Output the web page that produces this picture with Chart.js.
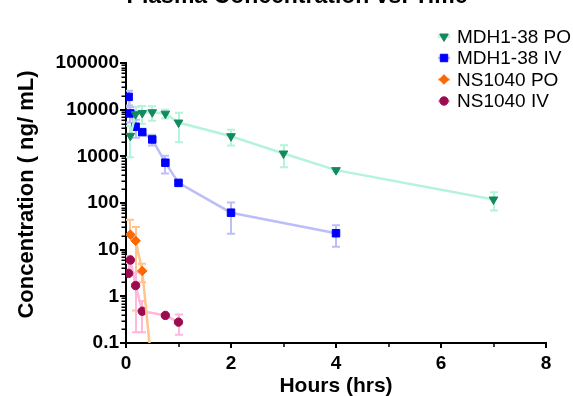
<!DOCTYPE html>
<html><head><meta charset="utf-8">
<script src="https://cdn.jsdelivr.net/npm/chart.js@4/dist/chart.umd.min.js"></script>
<style>html,body{margin:0;padding:0;background:#fff;overflow:hidden}canvas{display:block}</style>
</head><body>
<canvas id="c" width="573" height="396"></canvas>
<script>
const chartTitle = 'Plasma Concentration vs. Time';
const xAxisTitle = 'Hours (hrs)';
const yAxisTitle = 'Concentration ( ng/ mL)';
const seriesNames = ['MDH1-38 PO', 'MDH1-38 IV', 'NS1040 PO', 'NS1040 IV'];
const xTicks = [0, 2, 4, 6, 8];
const xMinorTicks = [1, 3, 5, 7];
const yTicks = [0.1, 1, 10, 100, 1000, 10000, 100000];

const mdhPoTime = [0.083, 0.183, 0.31, 0.5, 0.75, 1, 2, 3, 4, 7];
const mdhPoConc = [2750, 8000, 8500, 8800, 8200, 5300, 2700, 1150, 506, 119];
const mdhPoSd   = [1800, 3500, 3500, 3000, 1700, 3300, 1000, 570, 40, 50];

const mdhIvTime = [0.05, 0.083, 0.183, 0.31, 0.5, 0.75, 1, 2, 4];
const mdhIvConc = [18800, 8300, 4300, 3300, 2300, 730, 270, 62, 22.5];
const mdhIvSd   = [6500, 3000, 1800, 400, 600, 300, 30, 40, 11];

const nsPoTime = [0.083, 0.183, 0.31, 0.5];
const nsPoConc = [21, 15.5, 3.5, 0.025];
const nsPoSd   = [23, 15, 1.5, 0];

const nsIvTime = [0.05, 0.083, 0.183, 0.31, 0.75, 1];
const nsIvConc = [3.1, 6.0, 1.7, 0.48, 0.39, 0.28];
const nsIvSd   = [4.2, 0.8, 1.53, 0.31, 0.03, 0.13];

const FAMILY = '"Liberation Sans", Arial, Helvetica, sans-serif';

function pts(t, v) { return t.map((x, i) => ({x: x, y: v[i]})); }

function makeSet(label, t, v, sd, marker, line, style, radius, rotation) {
  return {
    label: label, data: pts(t, v), sd: sd,
    showLine: true, borderColor: line, borderWidth: 2.5, tension: 0,
    pointStyle: style, pointRadius: radius, pointRotation: rotation || 0,
    pointBackgroundColor: marker, pointBorderColor: marker, pointBorderWidth: 1,
    pointHoverRadius: radius
  };
}

const datasets = [
  makeSet(seriesNames[0], mdhPoTime, mdhPoConc, mdhPoSd, '#138a5c', '#b5f3dd', 'triangle', 5, 180),
  makeSet(seriesNames[1], mdhIvTime, mdhIvConc, mdhIvSd, '#0000ff', '#bdbdf7', 'rect', 5.3, 0),
  makeSet(seriesNames[2], nsPoTime, nsPoConc, nsPoSd, '#ff6600', '#ffc58c', 'rectRot', 4.8, 0),
  makeSet(seriesNames[3], nsIvTime, nsIvConc, nsIvSd, '#9c0a50', '#ffb8dc', 'circle', 4.2, 0)
];

const errorBars = {
  id: 'errorBars',
  beforeDatasetsDraw(chart) {
    const ctx = chart.ctx, a = chart.chartArea, xs = chart.scales.x, ys = chart.scales.y;
    ctx.save();
    ctx.beginPath(); ctx.rect(a.left, a.top - 3, a.right - a.left, a.bottom - a.top + 3); ctx.clip();
    chart.data.datasets.forEach(ds => {
      const sd = ds.sd; if (!sd) return;
      ctx.strokeStyle = ds.borderColor; ctx.lineWidth = 2;
      ds.data.forEach((p, i) => {
        const s = sd[i]; if (!s) return;
        const px = Math.round(xs.getPixelForValue(p.x));
        const py = ys.getPixelForValue(p.y);
        const hi = ys.getPixelForValue(p.y + s);
        ctx.beginPath();
        ctx.moveTo(px, py); ctx.lineTo(px, hi);
        ctx.moveTo(px - 4, hi); ctx.lineTo(px + 4, hi);
        if (p.y - s > 0) {
          const lo = ys.getPixelForValue(p.y - s);
          ctx.moveTo(px, py); ctx.lineTo(px, lo);
          ctx.moveTo(px - 4, lo); ctx.lineTo(px + 4, lo);
        }
        ctx.stroke();
      });
    });
    ctx.restore();
  }
};

const minorTicks = {
  id: 'minorTicks',
  afterDraw(chart) {
    const ctx = chart.ctx, a = chart.chartArea, xs = chart.scales.x, ys = chart.scales.y;
    ctx.save();
    ctx.strokeStyle = '#000'; ctx.lineWidth = 1.5;
    ctx.beginPath();
    for (let k = 0; k < yTicks.length - 1; k++) {
      for (let m = 2; m <= 9; m++) {
        const py = Math.round(ys.getPixelForValue(yTicks[k] * m)) + 0.25;
        ctx.moveTo(a.left - 4.5, py); ctx.lineTo(a.left, py);
      }
    }
    xMinorTicks.forEach(v => {
      const px = Math.round(xs.getPixelForValue(v));
      ctx.moveTo(px, a.bottom); ctx.lineTo(px, a.bottom + 4);
    });
    ctx.stroke();
    ctx.restore();
  }
};

function drawMarker(ctx, ds, x, y) {
  if (Chart.helpers && Chart.helpers.drawPoint) {
    ctx.fillStyle = ds.pointBackgroundColor; ctx.strokeStyle = ds.pointBorderColor; ctx.lineWidth = 1;
    Chart.helpers.drawPoint(ctx, {pointStyle: ds.pointStyle, radius: ds.pointRadius, rotation: ds.pointRotation, borderWidth: 1}, x, y);
  }
}

const legendAndTitle = {
  id: 'legendAndTitle',
  afterDraw(chart) {
    const ctx = chart.ctx;
    ctx.save();
    ctx.fillStyle = '#000';
    ctx.font = 'bold 23px ' + FAMILY;
    ctx.textAlign = 'center'; ctx.textBaseline = 'alphabetic';
    ctx.fillText(chartTitle, 297, 3);
    ctx.save();
    ctx.translate(26.5, 194.5);
    ctx.rotate(-Math.PI / 2);
    ctx.font = 'bold 22px ' + FAMILY;
    ctx.textAlign = 'center'; ctx.textBaseline = 'middle';
    ctx.fillText(yAxisTitle, 0, 0);
    ctx.restore();
    chart.data.datasets.forEach((ds, i) => {
      const y = 36.5 + i * 21.5, x = 444;
      ctx.strokeStyle = ds.borderColor; ctx.lineWidth = 2.5;
      ctx.beginPath(); ctx.moveTo(x - 6, y); ctx.lineTo(x + 6, y); ctx.stroke();
      drawMarker(ctx, ds, x, y);
      ctx.fillStyle = '#000';
      ctx.font = '19px ' + FAMILY;
      ctx.textAlign = 'left'; ctx.textBaseline = 'middle';
      ctx.fillText(ds.label, 457, y + 1);
    });
    ctx.restore();
  }
};

new Chart(document.getElementById('c'), {
  type: 'scatter',
  data: {datasets: datasets},
  plugins: [errorBars, minorTicks, legendAndTitle],
  options: {
    responsive: false, animation: false, devicePixelRatio: 1,
    layout: {padding: {left: 0, right: 27, top: 63, bottom: 0}},
    plugins: {legend: {display: false}, title: {display: false}, tooltip: {enabled: false}},
    scales: {
      x: {
        type: 'linear', min: 0, max: 8,
        afterBuildTicks: s => { s.ticks = xTicks.map(v => ({value: v})); },
        afterFit: s => { s.height = 53; },
        ticks: {color: '#000', font: {family: FAMILY, size: 19, weight: 'bold'}, padding: 4, maxRotation: 0, autoSkip: false},
        grid: {drawOnChartArea: false, drawTicks: true, tickLength: 5, color: '#000', lineWidth: 2},
        border: {display: true, color: '#000', width: 2},
        title: {display: true, text: xAxisTitle, color: '#000', font: {family: FAMILY, size: 21, weight: 'bold', lineHeight: 1}, padding: {top: 0, bottom: -1}}
      },
      y: {
        type: 'logarithmic', min: 0.1, max: 100000,
        afterBuildTicks: s => { s.ticks = yTicks.map(v => ({value: v})); },
        afterFit: s => { s.width = 126; },
        ticks: {color: '#000', font: {family: FAMILY, size: 19, weight: 'bold'}, padding: 1, autoSkip: false, callback: v => String(v)},
        grid: {drawOnChartArea: false, drawTicks: true, tickLength: 6, color: '#000', lineWidth: 2},
        border: {display: true, color: '#000', width: 2},
        title: {display: false}
      }
    }
  }
});
</script>
</body></html>
